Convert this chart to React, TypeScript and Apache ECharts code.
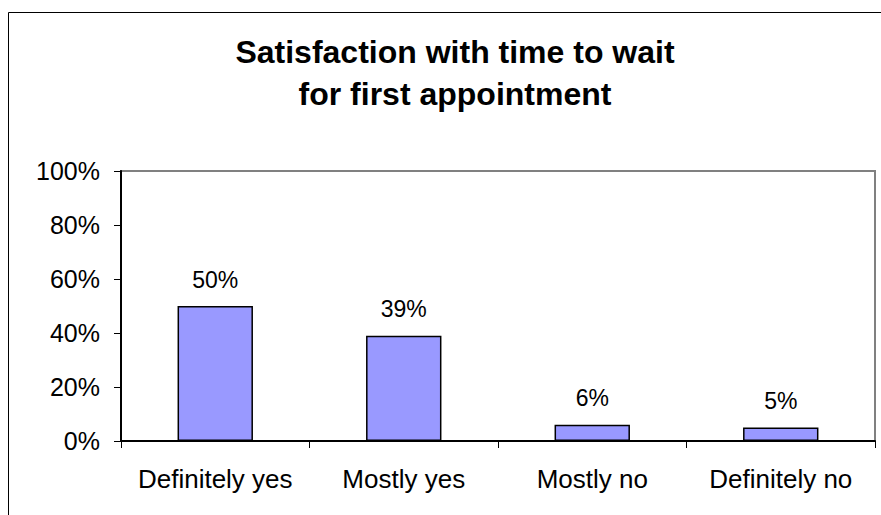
import React, { useEffect, useRef } from "react";
import * as echarts from "echarts";

const categories = ["Definitely yes", "Mostly yes", "Mostly no", "Definitely no"];
const values = [0.5, 0.39, 0.06, 0.05];
const titleLines = ["Satisfaction with time to wait", "for first appointment"];

const FONT = "'Liberation Sans', Arial, sans-serif";

export default function App() {
  const ref = useRef<HTMLDivElement>(null);
  useEffect(() => {
    if (!ref.current) return;
    const chart = echarts.init(ref.current, null, { renderer: "svg" });
    chart.setOption({
      animation: false,
      backgroundColor: "#ffffff",
      textStyle: { fontFamily: FONT },
      title: {
        text: titleLines.join("\n"),
        left: 450,
        top: 26,
        textAlign: "center",
        textStyle: {
          fontFamily: FONT,
          fontSize: 32,
          fontWeight: "bold",
          color: "#000",
          lineHeight: 42,
        },
      },
      graphic: [
        {
          type: "rect",
          shape: { x: 8.5, y: 12.5, width: 900, height: 600 },
          style: { fill: "none", stroke: "#000", lineWidth: 1 },
          silent: true,
        },
      ],
      grid: {
        left: 121,
        right: 6,
        top: 171,
        bottom: 74,
        show: true,
        borderColor: "#808080",
        borderWidth: 2,
        backgroundColor: "transparent",
      },
      xAxis: {
        type: "category",
        data: categories,
        axisLine: { show: true, lineStyle: { color: "#000", width: 2 } },
        axisTick: { show: true, length: 7, alignWithLabel: false, lineStyle: { color: "#000", width: 1 } },
        axisLabel: { fontFamily: FONT, fontSize: 26, color: "#000", margin: 25, interval: 0 },
        splitLine: { show: false },
      },
      yAxis: {
        type: "value",
        min: 0,
        max: 1,
        interval: 0.2,
        axisLine: { show: true, lineStyle: { color: "#000", width: 2 } },
        axisTick: { show: true, length: 7, lineStyle: { color: "#000", width: 1 } },
        axisLabel: {
          fontFamily: FONT,
          fontSize: 25,
          color: "#000",
          margin: 21,
          formatter: (v: number) => Math.round(v * 100) + "%",
        },
        splitLine: { show: false },
      },
      series: [
        {
          type: "bar",
          data: values,
          barWidth: "40%",
          itemStyle: { color: "#9999FF", borderColor: "#000", borderWidth: 1.5 },
          label: {
            show: true,
            position: "top",
            distance: 15,
            fontFamily: FONT,
            fontSize: 23,
            color: "#000",
            formatter: (p: any) => Math.round(p.value * 100) + "%",
          },
        },
      ],
    });
    return () => chart.dispose();
  }, []);
  return (
    <div
      ref={ref}
      style={{ position: "fixed", left: 0, top: 0, width: 881, height: 515, background: "#fff" }}
    />
  );
}
